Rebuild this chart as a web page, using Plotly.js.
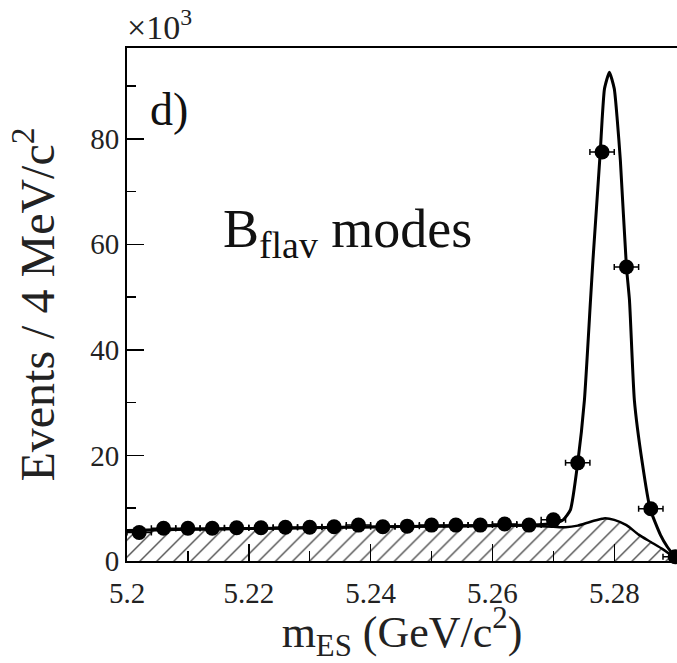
<!DOCTYPE html>
<html>
<head>
<meta charset="utf-8">
<script src="https://cdn.plot.ly/plotly-3.0.1.min.js"></script>
<style>html,body{margin:0;padding:0;background:#fff;}#plot{width:677px;height:663px;}</style>
</head>
<body>
<div id="plot"></div>
<script>
// Data points (mES bin centres, GeV/c^2) and events (x10^3 per 4 MeV/c^2)
var binCentres = [5.202, 5.206, 5.210, 5.214, 5.218, 5.222, 5.226, 5.230, 5.234, 5.238,
                  5.242, 5.246, 5.250, 5.254, 5.258, 5.262, 5.266, 5.270, 5.274, 5.278,
                  5.282, 5.286, 5.290];
var events = [5.4, 6.2, 6.2, 6.2, 6.3, 6.3, 6.4, 6.4, 6.5, 6.8,
              6.5, 6.6, 6.8, 6.8, 6.8, 7.0, 6.8, 7.8, 18.6, 77.5,
              55.7, 9.9, 0.8];
var halfBin = [0.002, 0.002, 0.002, 0.002, 0.002, 0.002, 0.002, 0.002, 0.002, 0.002,
               0.002, 0.002, 0.002, 0.002, 0.002, 0.002, 0.002, 0.002, 0.002, 0.002,
               0.002, 0.002, 0.002];

// Total fit curve
var fitX = [5.200, 5.210, 5.220, 5.230, 5.240, 5.250, 5.260, 5.266, 5.270, 5.2716,
            5.2728, 5.2740, 5.2751, 5.2761, 5.2765, 5.2777, 5.2780, 5.2784, 5.2792, 5.2800,
            5.2805, 5.2810, 5.2820, 5.2825, 5.2833, 5.2846, 5.2859, 5.2876, 5.2887, 5.2903];
var fitY = [5.8, 6.0, 6.15, 6.3, 6.45, 6.6, 6.7, 6.8, 7.1, 7.8,
            9.7, 18.6, 30.5, 49.4, 57.0, 77.5, 83.5, 89.5, 92.6, 89.5,
            83.5, 75.9, 55.7, 49.4, 30.5, 18.6, 9.85, 4.9, 2.7, 0.3];

// Background curve (hatched)
var bkgX = [5.200, 5.210, 5.220, 5.230, 5.240, 5.250, 5.260, 5.266, 5.270, 5.272,
            5.274, 5.276, 5.278, 5.2785, 5.280, 5.282, 5.284, 5.286, 5.288, 5.2903];
var bkgY = [5.8, 6.0, 6.15, 6.3, 6.45, 6.6, 6.7, 6.7, 6.5, 6.4,
            6.7, 7.4, 8.0, 8.1, 7.8, 6.8, 5.0, 3.6, 2.2, 0.3];

var SERIF = 'Liberation Serif';

var traces = [
  {
    x: bkgX, y: bkgY, type: 'scatter', mode: 'lines',
    line: {color: '#000', width: 2.5, shape: 'spline', smoothing: 0.6},
    fill: 'tozeroy', fillcolor: 'rgba(0,0,0,0)',
    fillpattern: {shape: '/', fgcolor: '#555', bgcolor: 'rgba(255,255,255,0)', size: 12, solidity: 0.12},
    hoverinfo: 'skip', showlegend: false
  },
  {
    x: fitX, y: fitY, type: 'scatter', mode: 'lines',
    line: {color: '#000', width: 3, shape: 'spline', smoothing: 0.5},
    hoverinfo: 'skip', showlegend: false
  },
  {
    x: binCentres, y: events, type: 'scatter', mode: 'markers',
    marker: {color: '#000', size: 15, symbol: 'circle'},
    error_x: {type: 'data', array: halfBin, visible: true, color: '#000', thickness: 1.5, width: 3},
    cliponaxis: false, showlegend: false
  }
];

var layout = {
  width: 677, height: 663,
  margin: {l: 127, r: 0, t: 48, b: 102},
  paper_bgcolor: '#fff', plot_bgcolor: '#fff',
  font: {family: SERIF, color: '#111'},
  showlegend: false,
  xaxis: {
    range: [5.2, 5.2903],
    tickmode: 'array',
    tickvals: [5.2, 5.22, 5.24, 5.26, 5.28],
    ticktext: ['5.2', '5.22', '5.24', '5.26', '5.28'],
    ticks: 'inside', ticklen: 17, tickwidth: 1.5, tickcolor: '#000',
    minor: {dtick: 0.01, tick0: 5.2, ticks: 'inside', ticklen: 10, tickwidth: 1.5, tickcolor: '#000'},
    showgrid: false, zeroline: false,
    showline: true, linecolor: '#000', linewidth: 2, mirror: true,
    tickfont: {family: SERIF, size: 29, color: '#222'},
    ticklabelstandoff: 5,
    title: {text: 'm<sub>ES</sub> (GeV/c<sup>2</sup>)', font: {family: SERIF, size: 44, color: '#222'}, standoff: 2},
    automargin: false
  },
  yaxis: {
    range: [0, 97.2],
    tickmode: 'array',
    tickvals: [0, 20, 40, 60, 80],
    ticktext: ['0', '20', '40', '60', '80'],
    ticks: 'inside', ticklen: 17, tickwidth: 1.5, tickcolor: '#000',
    minor: {dtick: 10, tick0: 0, ticks: 'inside', ticklen: 9, tickwidth: 1.5, tickcolor: '#000'},
    showgrid: false, zeroline: false,
    showline: true, linecolor: '#000', linewidth: 2, mirror: false,
    tickfont: {family: SERIF, size: 29, color: '#222'},
    title: {text: 'Events / 4 MeV/c<sup>2</sup>', font: {family: SERIF, size: 48, color: '#222'}, standoff: 20},
    automargin: false
  },
  annotations: [
    {text: '×10<sup>3</sup>', xref: 'paper', yref: 'paper', x: 0, y: 1, xanchor: 'left', yanchor: 'bottom',
     xshift: -2, showarrow: false, font: {family: SERIF, size: 34, color: '#222'}},
    {text: 'd)', xref: 'paper', yref: 'paper', x: 0.038, y: 0.88, xanchor: 'left', yanchor: 'middle',
     showarrow: false, font: {family: SERIF, size: 46, color: '#111'}},
    {text: 'B<sub>flav</sub> modes', xref: 'paper', yref: 'paper', x: 0.17, y: 0.64, xanchor: 'left', yanchor: 'middle',
     showarrow: false, font: {family: SERIF, size: 54, color: '#111'}}
  ]
};

Plotly.newPlot('plot', traces, layout, {displayModeBar: false, staticPlot: true});
</script>
</body>
</html>
